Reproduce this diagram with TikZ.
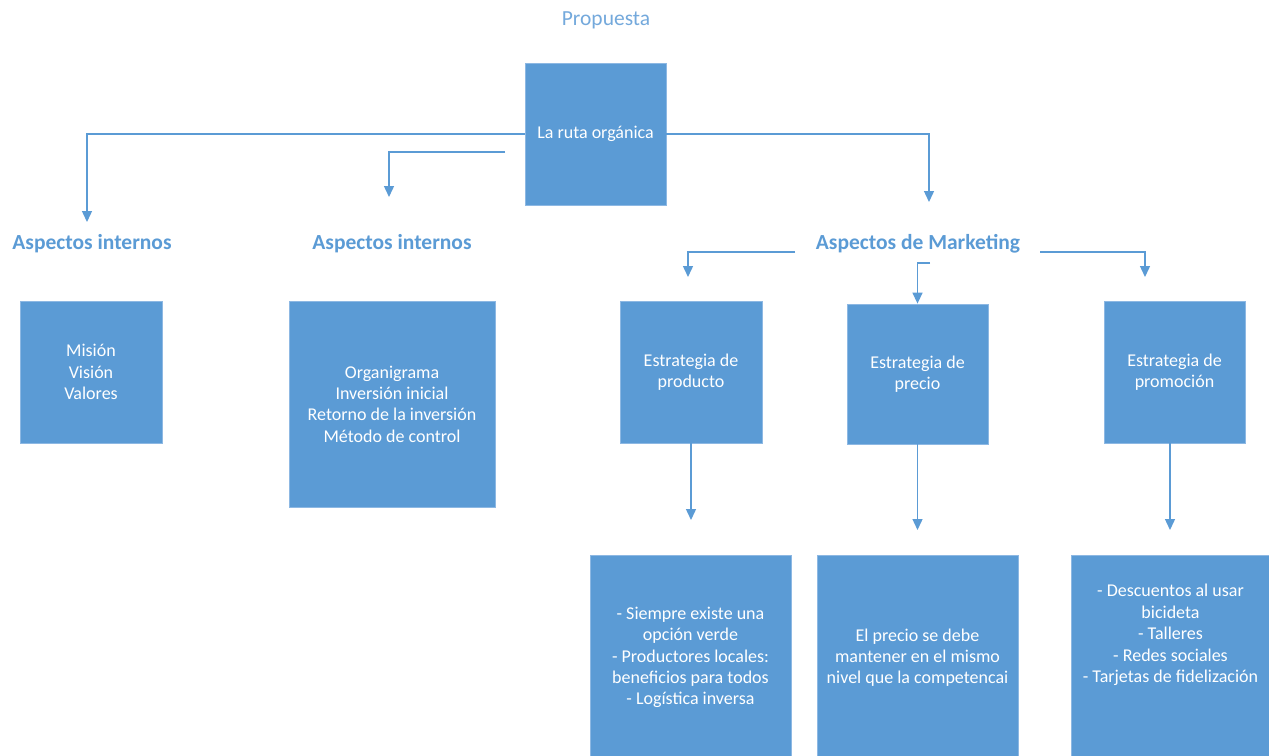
\documentclass[tikz,border=0pt]{standalone}
\usepackage{fontspec}
\setmainfont{Carlito}
\usetikzlibrary{arrows.meta}
\definecolor{boxblue}{HTML}{5B9BD5}
\definecolor{edgeblue}{HTML}{8DB8E3}
\definecolor{headblue}{HTML}{5B9BD5}
\definecolor{lightblue}{HTML}{74A9DC}
\begin{document}
\begin{tikzpicture}[x=1pt,y=-1pt,
 box/.style={draw=edgeblue, line width=0.8pt, fill=boxblue, text=white, align=center,
   font=\fontsize{18}{21.3}\selectfont, inner sep=0pt},
 plain/.style={text=white, align=center, font=\fontsize{18}{21.6}\selectfont, inner sep=0pt},
 head/.style={text=headblue, font=\fontsize{21.5}{24}\selectfont\bfseries, inner sep=1pt},
 conn/.style={draw=boxblue, line width=1.4pt, -{Triangle[width=10pt,length=11pt]}}
]
\useasboundingbox[fill=white] (0,0) rectangle (1269,755);

\node[text=lightblue, font=\fontsize{21.5}{24}\selectfont] (prop) at (606,20) {Propuesta};

\node[box, minimum width=141pt, minimum height=142pt] (root) at (595.5,134) {La ruta orgánica};

\node[head] (h1) at (92,244) {Aspectos internos};
\node[head] (h2) at (392,244) {Aspectos internos};
\node[head] (h3) at (918,244) {Aspectos de Marketing};

\node[box, minimum width=142pt, minimum height=142pt] (mis) at (91,372) {Misión\\Visión\\Valores};
\node[box, minimum width=206pt, minimum height=206pt] (org) at (392,404) {Organigrama\\Inversión inicial\\Retorno de la inversión\\Método de control};

\node[box, minimum width=142pt, minimum height=142pt] (prod) at (691,372) {Estrategia de\\producto};
\node[box, minimum width=141pt, minimum height=140pt] (prec) at (917.5,374) {Estrategia de\\precio};
\node[box, minimum width=141pt, minimum height=142pt] (promo) at (1174.5,372) {Estrategia de\\promoción};

\node[box, minimum width=201pt, minimum height=205pt] (b1) at (690.5,657.5) {- Siempre existe una\\opción verde\\- Productores locales:\\beneficios para todos\\- Logística inversa};
\node[box, minimum width=201pt, minimum height=205pt] (b2) at (917.5,657.5) {El precio se debe\\mantener en el mismo\\nivel que la competencai};
\node[box, minimum width=199pt, minimum height=205pt] (b3) at (1170.5,657.5) {};
\node[plain] (b3t) at (1170.5,635) {- Descuentos al usar\\bicideta\\- Talleres\\- Redes sociales\\- Tarjetas de fidelización};

% connectors from root
\coordinate (a1) at (87,222);
\draw[conn] (root.west) -| (a1);
\coordinate (s2) at (505,152);
\coordinate (a2) at (389,197);
\draw[conn] (s2) -| (a2);
\coordinate (a3) at (929,202);
\draw[conn] (root.east) -| (a3);

% connectors from marketing
\coordinate (m1) at (795,252);
\coordinate (a4) at (688,277);
\draw[conn] (m1) -| (a4);
\coordinate (m2) at (1040,252);
\coordinate (a5) at (1145,277);
\draw[conn] (m2) -| (a5);
\coordinate (m3) at (930,263);
\draw[conn] (m3) -| (prec.north);

% strategy to details
\coordinate (a6) at (691,520);
\draw[conn] (prod.south) -- (a6);
\coordinate (a7) at (917.5,530);
\draw[conn] (prec.south) -- (a7);
\coordinate (p8) at (1170,443);
\coordinate (a8) at (1170,530);
\draw[conn] (p8) -- (a8);
\end{tikzpicture}
\end{document}
